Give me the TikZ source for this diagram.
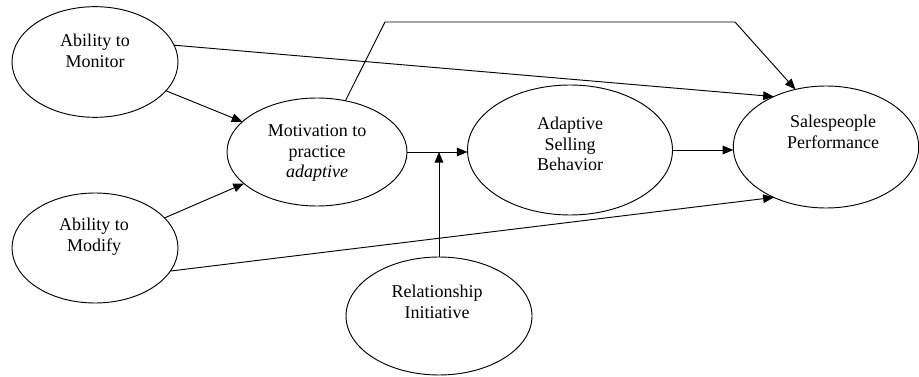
\documentclass[tikz,border=0pt]{standalone}
\usepackage{fontspec}
\setmainfont{Liberation Serif}
\usetikzlibrary{shapes.geometric, arrows.meta}

\begin{document}
\begin{tikzpicture}[x=0.75pt, y=-0.75pt, line width=0.7pt,
    >={Triangle[length=8pt, width=6.5pt]},
    construct/.style={ellipse, draw, inner sep=0pt, outer sep=0pt},
    caption/.style={align=center, font=\fontsize{13.5}{15.5}\selectfont}]
    \useasboundingbox (0,0) rectangle (919,377);
    % constructs
    \node (mon) at (95,62) [construct, minimum width=124.5pt, minimum height=83pt] {};
    \node (mod) at (95,248) [construct, minimum width=124.5pt, minimum height=82.5pt] {};
    \node (mot) at (317,152) [construct, minimum width=135pt, minimum height=81pt] {};
    \node (asb) at (570,150) [construct, minimum width=153.75pt, minimum height=97.5pt] {};
    \node (perf) at (826,147) [construct, minimum width=139pt, minimum height=91.5pt] {};
    \node (rel) at (439,316) [construct, minimum width=139.5pt, minimum height=88.5pt] {};
    % texts
    \node (monT) at (95,51) [caption] {Ability to\\Monitor};
    \node (modT) at (94,237) [caption] {Ability to\\Modify};
    \node (motT) at (317,153) [caption] {Motivation to\\practice\\\textit{adaptive}};
    \node (asbT) at (570,144) [caption] {Adaptive\\Selling\\Behavior};
    \node (perfT) at (833,132) [caption] {Salespeople\\Performance};
    \node (relT) at (437,302) [caption] {Relationship\\Initiative};
    % paths
    \coordinate (jn) at (rel.north |- mot.east);
    \coordinate (c1) at (385,22);
    \coordinate (c2) at (735,22);
    \draw[->] (mon) -- (mot);
    \draw[->] (mod) -- (mot);
    \draw[->] (mon.12) -- (perf.136);
    \draw[->] (mod.-17) -- (perf.224);
    \draw[->] (mot.61) -- (c1) -- (c2) -- (perf.118);
    \draw[->] (mot.east) -- (asb.west |- mot.east);
    \draw[->] (rel.north) -- (jn);
    \draw[->] (asb.east) -- (perf.west |- asb.east);
\end{tikzpicture}
\end{document}
